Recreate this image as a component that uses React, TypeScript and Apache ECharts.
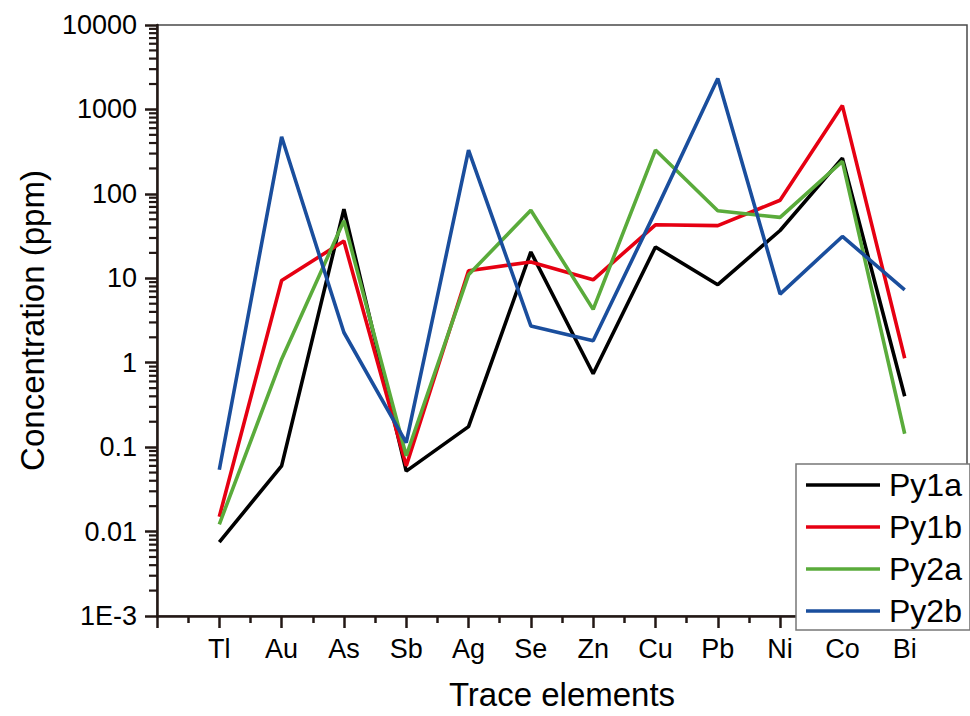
import React, { useEffect, useRef } from "react";
import * as echarts from "echarts";

const categories = ["Tl", "Au", "As", "Sb", "Ag", "Se", "Zn", "Cu", "Pb", "Ni", "Co", "Bi"];
const py1a = [0.0075, 0.06, 66, 0.052, 0.175, 20.5, 0.74, 23.5, 8.4, 36.8, 265, 0.4];
const py1b = [0.015, 9.4, 27.6, 0.06, 12.3, 15.6, 9.6, 43, 42, 84, 1110, 1.13];
const py2a = [0.0122, 1.1, 48, 0.079, 11.0, 64, 4.28, 330, 63, 52.6, 242, 0.144];
const py2b = [0.054, 474, 2.28, 0.113, 330, 2.73, 1.82, 62, 2320, 6.5, 31.3, 7.3];
const seriesNames = ["Py1a", "Py1b", "Py2a", "Py2b"];
const seriesColors = ["#000000", "#e60012", "#5aab3b", "#1a4e9d"];
const yTickLabels: Record<string, string> = {
  "-3": "1E-3",
  "-2": "0.01",
  "-1": "0.1",
  "0": "1",
  "1": "10",
  "2": "100",
  "3": "1000",
  "4": "10000",
};
const minorMantissas = [2, 3, 4, 5, 6, 7, 8, 9];
const decadeExponents = [-3, -2, -1, 0, 1, 2, 3];

const FONT = "'Liberation Sans', Arial, Helvetica, sans-serif";
const AXIS_COLOR = "#231815";

export default function App() {
  const ref = useRef<HTMLDivElement>(null);
  useEffect(() => {
    if (!ref.current) return;
    const chart = echarts.init(ref.current, null, { renderer: "svg" });
    const allSeries = [py1a, py1b, py2a, py2b];
    const minorValues: number[] = [];
    decadeExponents.forEach((e) =>
      minorMantissas.forEach((m) => minorValues.push(Number((m * Math.pow(10, e)).toPrecision(3))))
    );
    chart.setOption({
      animation: false,
      backgroundColor: "#ffffff",
      textStyle: { fontFamily: FONT },
      grid: {
        left: 157,
        top: 25,
        right: 1,
        bottom: 92,
        show: true,
        borderColor: "#4a4a4a",
        borderWidth: 1.5,
      },
      legend: {
        orient: "vertical",
        left: 796,
        top: 464,
        data: seriesNames,
        icon: "rect",
        itemWidth: 74,
        itemHeight: 3.5,
        itemGap: 10,
        padding: [5, 8, 3, 10],
        borderColor: "#777777",
        borderWidth: 1.5,
        backgroundColor: "#ffffff",
        textStyle: { fontSize: 32, lineHeight: 30, color: "#000", fontFamily: FONT, padding: [0, 0, 0, 4] },
      },
      xAxis: {
        type: "value",
        min: 0,
        max: 13,
        interval: 1,
        splitLine: { show: false },
        axisLine: { show: true, lineStyle: { color: AXIS_COLOR, width: 2.5 } },
        axisTick: { show: true, inside: false, length: 12, lineStyle: { color: AXIS_COLOR, width: 2.5 } },
        minorTick: { show: true, splitNumber: 2, length: 7, lineStyle: { color: AXIS_COLOR, width: 2.5 } },
        axisLabel: {
          margin: 19,
          fontSize: 27,
          color: "#000",
          fontFamily: FONT,
          formatter: (v: number) => categories[Math.round(v) - 1] ?? "",
        },
        name: "Trace elements",
        nameLocation: "middle",
        nameGap: 62,
        nameTextStyle: { fontSize: 33, color: "#000", fontFamily: FONT },
      },
      yAxis: {
        type: "log",
        logBase: 10,
        min: 0.001,
        max: 10000,
        splitLine: { show: false },
        axisLine: { show: true, lineStyle: { color: AXIS_COLOR, width: 2.5 } },
        axisTick: { show: true, inside: false, length: 12, lineStyle: { color: AXIS_COLOR, width: 2.5 } },
        axisLabel: {
          margin: 20,
          fontSize: 27,
          color: "#000",
          fontFamily: FONT,
          formatter: (v: number) => yTickLabels[String(Math.round(Math.log10(v)))] ?? "",
        },
        name: "Concentration (ppm)",
        nameLocation: "middle",
        nameRotate: 90,
        nameGap: 108,
        nameTextStyle: { fontSize: 33, color: "#000", fontFamily: FONT },
      },
      series: [
        ...seriesNames.map((name, si) => ({
          name,
          type: "line",
          symbol: "none",
          color: seriesColors[si],
          lineStyle: { width: 3.6, color: seriesColors[si] },
          data: categories.map((_, i) => [i + 1, allSeries[si][i]]),
        })),
        {
          type: "custom",
          data: minorValues.map((v) => [0, v]),
          z: 10,
          renderItem: (_params: any, api: any) => {
            const p = api.coord([0, api.value(1)]);
            return {
              type: "line",
              shape: { x1: p[0] - 8, y1: p[1], x2: p[0], y2: p[1] },
              style: { stroke: AXIS_COLOR, lineWidth: 2.2 },
            };
          },
        },
      ],
    });
    return () => chart.dispose();
  }, []);
  return <div ref={ref} style={{ position: "fixed", left: 0, top: 0, width: 970, height: 716 }} />;
}
